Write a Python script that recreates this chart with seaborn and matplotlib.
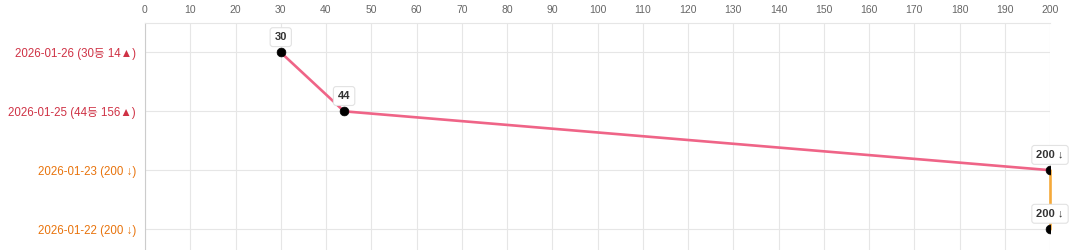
import matplotlib
matplotlib.use("Agg")
import matplotlib.pyplot as plt
import seaborn as sns
import pandas as pd

dates = ["2026-01-26", "2026-01-25", "2026-01-23", "2026-01-22"]
ranks = [30, 44, 200, 200]
tick_labels = ["2026-01-26 (30등 14▲)", "2026-01-25 (44등 156▲)",
               "2026-01-23 (200 ↓)", "2026-01-22 (200 ↓)"]
point_labels = ["30", "44", "200 ↓", "200 ↓"]
label_colors = ["#cf3245", "#cf3245", "#e8730c", "#e8730c"]
segment_colors = ["#ef6487", "#ef6487", "#f5a93a"]

sns.set_theme(style="white")
plt.rcParams['font.family'] = ['Liberation Sans', 'Noto Sans CJK KR', 'DejaVu Sans']

df = pd.DataFrame({"date": dates, "rank": ranks, "pos": range(len(dates))})

fig = plt.figure(figsize=(10.74, 2.5), dpi=100)
ax = fig.add_axes([145/1074, 1 - 258.5/250, (1050-145)/1074, (258.5-23)/250])

for i in range(len(df) - 1):
    seg = df.iloc[i:i+2]
    sns.lineplot(data=seg, x="rank", y="pos", color=segment_colors[i],
                 linewidth=1.9, ax=ax, sort=False, estimator=None, zorder=2)
for ln in ax.lines:
    ln.set_clip_on(False)

sns.scatterplot(data=df, x="rank", y="pos", color="black", s=40,
                edgecolor="black", ax=ax, zorder=3)

for _, r in df.iterrows():
    ax.annotate(point_labels[int(r["pos"])], (r["rank"], r["pos"]),
                xytext=(0, 11), textcoords="offset points",
                ha="center", va="center", fontsize=8, fontweight="bold",
                color="#333333", annotation_clip=False, zorder=5,
                bbox=dict(boxstyle="round,pad=0.4,rounding_size=0.25",
                          fc="white", ec="#e2e2e2", lw=0.8))

ax.set_xlim(0, 200)
ax.set_ylim(len(dates) - 0.5, -0.5)
ax.set_xticks(range(0, 201, 10))
ax.xaxis.tick_top()
ax.tick_params(axis="x", labelsize=7.5, colors="#666666", length=0, pad=6)
ax.set_yticks(df["pos"])
ax.set_yticklabels(tick_labels, fontsize=8.3)
ax.tick_params(axis="y", length=0, pad=6.5)
for lbl, c in zip(ax.get_yticklabels(), label_colors):
    lbl.set_color(c)
ax.set_xlabel("")
ax.set_ylabel("")
ax.grid(True, color="#e6e6e6", linewidth=0.8)
ax.set_axisbelow(True)
for s in ["right", "bottom"]:
    ax.spines[s].set_visible(False)
ax.spines["top"].set_color("#e6e6e6")
ax.spines["left"].set_color("#cccccc")
ax.spines["top"].set_linewidth(0.8)
ax.spines["left"].set_linewidth(0.8)

fig.savefig("out.png", dpi=100)
